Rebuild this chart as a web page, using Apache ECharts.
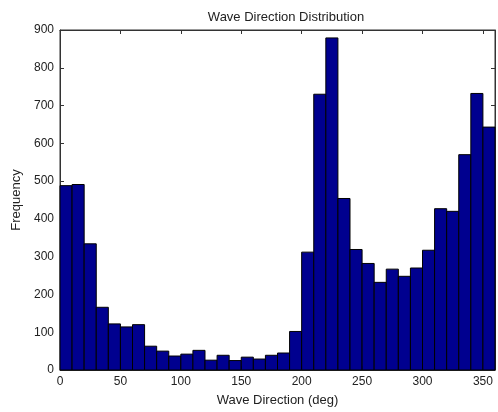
<!DOCTYPE html>
<html><head><meta charset="utf-8">
<script src="https://cdn.jsdelivr.net/npm/echarts@6/dist/echarts.min.js"></script>
<style>html,body{margin:0;padding:0;background:#fff}#c{width:498px;height:412px}</style>
</head><body><div id="c"></div>
<script>
const binStarts = [0,10,20,30,40,50,60,70,80,90,100,110,120,130,140,150,160,170,180,190,200,210,220,230,240,250,260,270,280,290,300,310,320,330,340,350];
const binWidth = 10;
const counts = [488,491,334,166,122,114,120,63,50,37,42,52,26,39,25,34,29,39,45,102,312,730,879,454,319,282,232,267,248,270,317,427,420,570,732,643];
const xTicks = [0,50,100,150,200,250,300,350];
const yTicks = [0,100,200,300,400,500,600,700,800,900];

const font = 'Liberation Sans, Arial, sans-serif';
const chart = echarts.init(document.getElementById('c'), null, {renderer:'canvas'});
const data = binStarts.map((s,i)=>[s, s+binWidth, counts[i]]);
const axisLine = {show:true, onZero:false, lineStyle:{color:'#333', width:1}};
const tick = {show:true, inside:true, length:4, lineStyle:{color:'#333'}};
chart.setOption({
  animation:false,
  backgroundColor:'#fff',
  title:{text:'Wave Direction Distribution', left:281, top:6, textAlign:'center',
    textStyle:{fontFamily:font, fontSize:13, fontWeight:'normal', color:'#222'}},
  grid:{left:60, right:1, top:30, bottom:38, show:true, borderColor:'#333', borderWidth:1, backgroundColor:'transparent'},
  xAxis:[{type:'value', min:0, max:360, interval:50, position:'bottom',
    name:'Wave Direction (deg)', nameLocation:'middle', nameGap:24,
    nameTextStyle:{fontFamily:font, fontSize:13, color:'#222'},
    axisLine:axisLine, axisTick:tick,
    axisLabel:{fontFamily:font, fontSize:12, color:'#222', margin:6,
      formatter:v=> xTicks.indexOf(v)>=0 ? String(v) : ''},
    splitLine:{show:false}},
   {type:'value', min:0, max:360, interval:50, position:'top', show:true,
    axisLine:axisLine, axisTick:tick,
    axisLabel:{show:false}, splitLine:{show:false}}],
  yAxis:[{type:'value', min:0, max:900, interval:100, position:'left',
    name:'Frequency', nameLocation:'middle', nameGap:34,
    nameTextStyle:{fontFamily:font, fontSize:13, color:'#222'},
    axisLine:axisLine, axisTick:tick,
    axisLabel:{fontFamily:font, fontSize:12, color:'#222', margin:6,
      formatter:v=> yTicks.indexOf(v)>=0 ? String(v) : ''},
    splitLine:{show:false}},
   {type:'value', min:0, max:900, interval:100, position:'right', show:true,
    axisLine:axisLine, axisTick:tick,
    axisLabel:{show:false}, splitLine:{show:false}}],
  series:[{type:'custom', xAxisIndex:0, yAxisIndex:0, data:data,
    renderItem:(params, api)=>{
      const p0 = api.coord([api.value(0), api.value(2)]);
      const p1 = api.coord([api.value(1), 0]);
      return {type:'rect', shape:{x:p0[0], y:p0[1], width:p1[0]-p0[0], height:p1[1]-p0[1]},
        style:{fill:'#00008F', stroke:'#000', lineWidth:1}};
    }},
   {type:'custom', xAxisIndex:1, yAxisIndex:1, data:[], renderItem:()=>null}]
});
</script></body></html>
